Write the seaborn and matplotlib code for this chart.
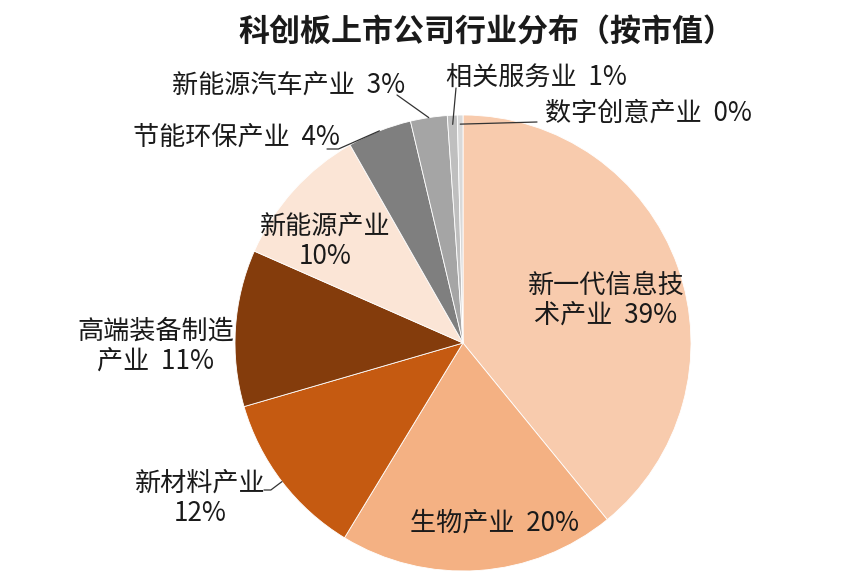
import numpy as np
import matplotlib
matplotlib.use('Agg')
import matplotlib.pyplot as plt
import seaborn as sns

# 数据
industries = ['新一代信息技术产业', '生物产业', '新材料产业', '高端装备制造产业', '新能源产业',
              '节能环保产业', '新能源汽车产业', '相关服务业', '数字创意产业']
shares = [39.1, 19.6, 11.8, 11.1, 10.15, 4.55, 2.6, 0.7, 0.4]
pct_labels = ['39%', '20%', '12%', '11%', '10%', '4%', '3%', '1%', '0%']
colors = ['#F8CBAD', '#F4B183', '#C55A11', '#843C0C', '#FBE5D6',
          '#7F7F7F', '#A5A5A5', '#BFBFBF', '#D9D9D9']

sns.set_theme(style='white')
plt.rcParams['font.family'] = ['Noto Sans CJK SC', 'DejaVu Sans']

W, H = 862, 585
fig = plt.figure(figsize=(W / 100, H / 100), dpi=100)

# 饼图中心及半径（像素）
cx, cy, R = 463, 343, 228
ax = fig.add_axes([(cx - R) / W, (H - cy - R) / H, 2 * R / W, 2 * R / H])
wedges, _ = ax.pie(shares, colors=colors, startangle=90, counterclock=False,
                   radius=1, wedgeprops=dict(edgecolor='white', linewidth=0.6))
ax.set_xlim(-1, 1)
ax.set_ylim(-1, 1)
ax.set_aspect('equal')
ax.axis('off')


def px(x, y):
    return (x - cx) / R, (cy - y) / R


# 标签文字（位置为像素）
label_text = [
    '新一代信息技\n术产业  ' + pct_labels[0],
    '生物产业  ' + pct_labels[1],
    '新材料产业\n' + pct_labels[2],
    '高端装备制造\n产业  ' + pct_labels[3],
    '新能源产业\n' + pct_labels[4],
    '节能环保产业  ' + pct_labels[5],
    '新能源汽车产业  ' + pct_labels[6],
    '相关服务业  ' + pct_labels[7],
    '数字创意产业  ' + pct_labels[8],
]
label_pos = [(606, 300), (495, 523), (200, 498), (156, 346), (325, 241),
             (236, 137), (289, 85), (536, 78), (648, 113)]

for txt, (x, y) in zip(label_text, label_pos):
    tx, ty = px(x, y)
    ax.text(tx, ty, txt, ha='center', va='center', fontsize=18.8, fontweight='light',
            color='#1a1a1a', linespacing=1.15, clip_on=False)

# 引导线
leaders = {2: (264, 490), 5: (327, 149), 6: (397, 95), 7: (456, 88), 8: (537, 122)}
for i, (x, y) in leaders.items():
    w = wedges[i]
    mid = np.deg2rad((w.theta1 + w.theta2) / 2)
    r_end = 0.96 if i >= 7 else 1.0
    ex, ey = r_end * np.cos(mid), r_end * np.sin(mid)
    sx, sy = px(x, y)
    if i == 2:
        ax.plot([sx, sx + 0.03, ex], [sy, sy, ey], color='#333333', lw=0.9, clip_on=False)
    elif i == 5:
        ax.plot([sx, sx + 0.05, ex], [sy, sy, ey], color='#333333', lw=0.9, clip_on=False)
    else:
        ax.plot([sx, ex], [sy, ey], color='#333333', lw=0.9, clip_on=False)

fig.text(486 / W, 1 - 33 / H, '科创板上市公司行业分布（按市值）', ha='center', va='center',
         fontsize=22.3, fontweight='bold', color='#1a1a1a')

fig.savefig('out.png', dpi=100, facecolor='white')
